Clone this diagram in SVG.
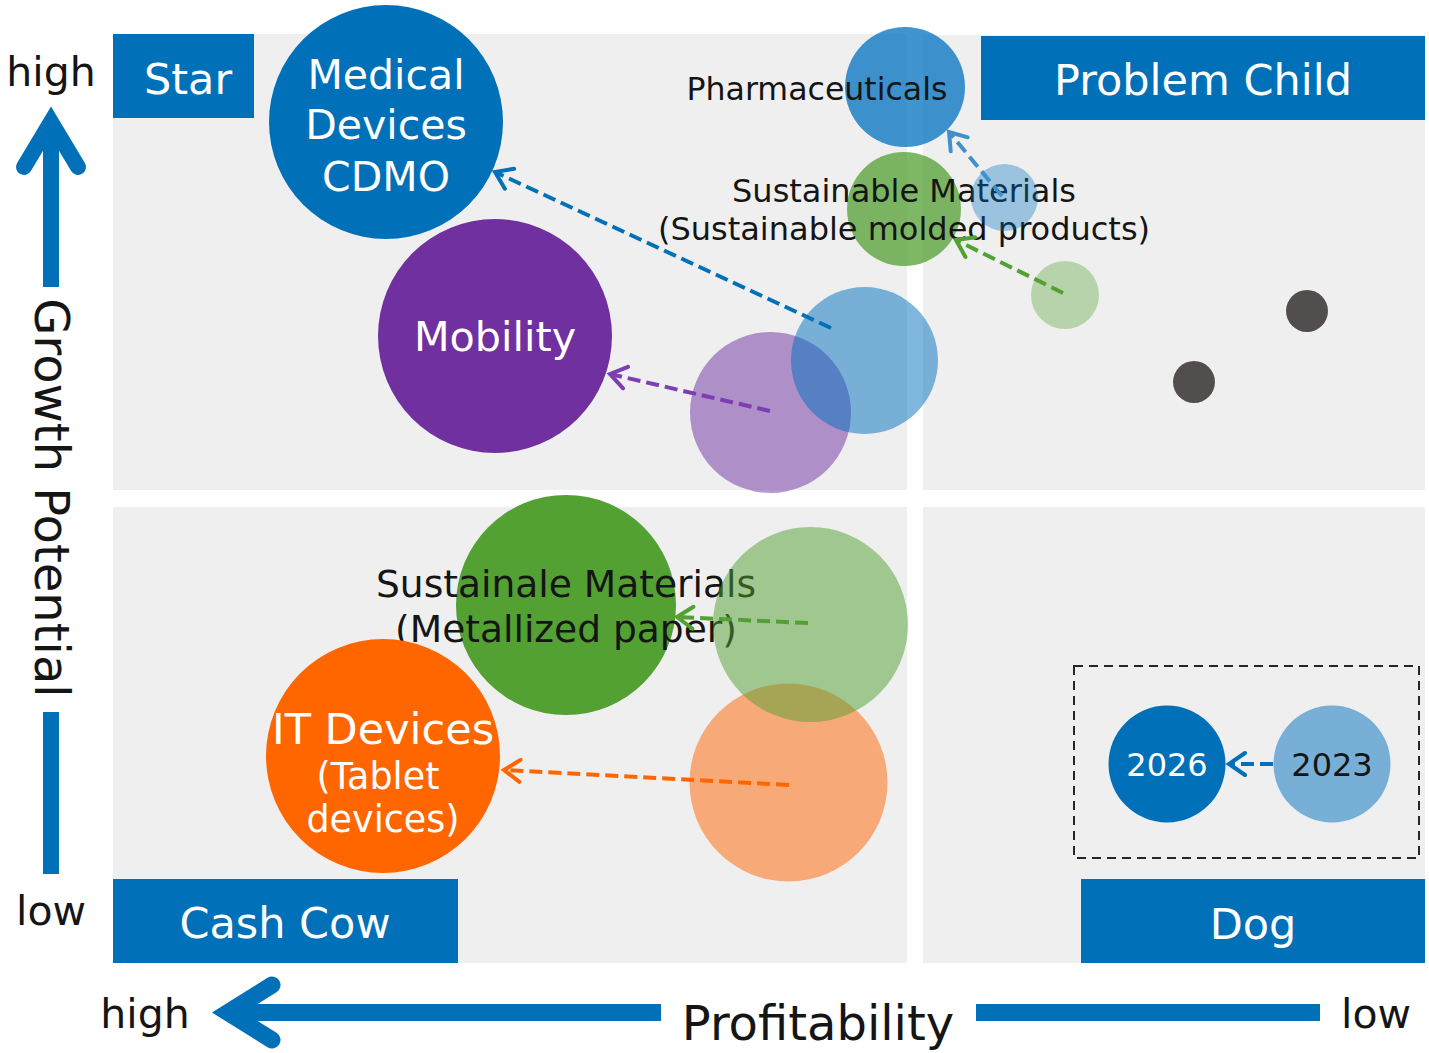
<svg xmlns="http://www.w3.org/2000/svg" width="1429" height="1053" viewBox="0 0 1429 1053">
<style>
text{font-family:"DejaVu Sans",Verdana,sans-serif;}
.quad{fill:#efefef;}
.lab{fill:#0070B9;}
.labt{fill:#ffffff;font-size:43px;text-anchor:middle;}
.ax{fill:#151515;font-size:41px;text-anchor:middle;}
.axt{fill:#151515;font-size:48px;text-anchor:middle;}
.axis{stroke:#0070B9;fill:none;}
.wt{fill:#ffffff;text-anchor:middle;}
.bk{fill:#151515;text-anchor:middle;}
.dash{fill:none;stroke-width:4;stroke-dasharray:13 6;}
</style>
<defs>
<marker id="mBlue" markerUnits="userSpaceOnUse" markerWidth="40" markerHeight="40" refX="0" refY="0" orient="auto" viewBox="-20 -20 40 40" overflow="visible"><path d="M-16,-11 L0,0 L-16,11" fill="none" stroke="#0070B9" stroke-width="4" stroke-linecap="round" stroke-linejoin="miter"/></marker>
<marker id="mMid" markerUnits="userSpaceOnUse" markerWidth="40" markerHeight="40" refX="0" refY="0" orient="auto" viewBox="-20 -20 40 40" overflow="visible"><path d="M-16,-11 L0,0 L-16,11" fill="none" stroke="#3F90CB" stroke-width="4" stroke-linecap="round"/></marker>
<marker id="mPurple" markerUnits="userSpaceOnUse" markerWidth="40" markerHeight="40" refX="0" refY="0" orient="auto" viewBox="-20 -20 40 40" overflow="visible"><path d="M-16,-11 L0,0 L-16,11" fill="none" stroke="#7D3DB5" stroke-width="4" stroke-linecap="round"/></marker>
<marker id="mGreen" markerUnits="userSpaceOnUse" markerWidth="40" markerHeight="40" refX="0" refY="0" orient="auto" viewBox="-20 -20 40 40" overflow="visible"><path d="M-16,-11 L0,0 L-16,11" fill="none" stroke="#53A033" stroke-width="4" stroke-linecap="round"/></marker>
<marker id="mOrange" markerUnits="userSpaceOnUse" markerWidth="40" markerHeight="40" refX="0" refY="0" orient="auto" viewBox="-20 -20 40 40" overflow="visible"><path d="M-16,-11 L0,0 L-16,11" fill="none" stroke="#FF6600" stroke-width="4" stroke-linecap="round"/></marker>
</defs>
<rect width="1429" height="1053" fill="#ffffff"/>
<g id="quadrants">
<rect class="quad" x="113" y="34" width="794" height="456"/>
<rect class="quad" x="923" y="35" width="502" height="455"/>
<rect class="quad" x="113" y="507" width="794" height="456"/>
<rect class="quad" x="923" y="507" width="502" height="456"/>
</g>
<g id="label-star"><rect class="lab" x="113" y="34" width="141" height="84"/><text class="labt" x="188" y="94">Star</text></g>
<g id="label-problem-child"><rect class="lab" x="981" y="36" width="444" height="84"/><text class="labt" x="1203" y="95">Problem Child</text></g>
<g id="label-cash-cow"><rect class="lab" x="113" y="879" width="345" height="84"/><text class="labt" x="285" y="938">Cash Cow</text></g>
<g id="label-dog"><rect class="lab" x="1081" y="879" width="344" height="84"/><text class="labt" x="1253" y="939">Dog</text></g>
<g id="axis-y">
<path class="axis" d="M51,287 V125" stroke-width="16"/>
<path class="axis" d="M24,167 L51,122 L78,167" stroke-width="16" stroke-linecap="round" stroke-linejoin="miter" stroke-miterlimit="10"/>
<path class="axis" d="M51,712 V874" stroke-width="16"/>
<text class="axt" transform="translate(35,498) rotate(90)" x="0" y="0">Growth Potential</text>
<text class="ax" x="51" y="86">high</text>
<text class="ax" x="51" y="925">low</text>
</g>
<g id="axis-x">
<path class="axis" d="M661,1012.5 H232" stroke-width="17"/>
<path class="axis" d="M272,985 L228,1012.5 L272,1040" stroke-width="17" stroke-linecap="round" stroke-linejoin="miter" stroke-miterlimit="10"/>
<path class="axis" d="M976,1012.5 H1320" stroke-width="17"/>
<text class="axt" x="818" y="1040">Profitability</text>
<text class="ax" x="145" y="1028">high</text>
<text class="ax" x="1376" y="1028">low</text>
</g>
<g id="node-medical-2026"><circle cx="386" cy="122" r="117" fill="#0070B9"/><text class="wt" font-size="41" x="386" y="89">Medical</text><text class="wt" font-size="41" x="386" y="139">Devices</text><text class="wt" font-size="41" x="386" y="191">CDMO</text></g>
<g id="node-mobility-2026"><circle cx="495" cy="336" r="117" fill="#7030A0"/><text class="wt" font-size="41.3" x="495" y="351">Mobility</text></g>
<g id="node-pharma-2026"><circle cx="905" cy="87" r="60" fill="#0070C0" fill-opacity="0.75"/><text class="bk" font-size="31.6" x="817" y="100">Pharmaceuticals</text></g>
<g id="node-molded-2026"><circle cx="904" cy="209" r="57" fill="#53A033" fill-opacity="0.75"/><text class="bk" font-size="32" x="904" y="202">Sustainable Materials</text><text class="bk" font-size="32" x="904" y="240">(Sustainable molded products)</text></g>
<g id="node-metallized-2026"><circle cx="566" cy="605" r="110" fill="#53A033"/><text class="bk" font-size="37.6" x="566" y="597">Sustainale Materials</text><text class="bk" font-size="37.6" x="566" y="642">(Metallized paper)</text></g>
<g id="node-it-2026"><circle cx="383" cy="756" r="117" fill="#FF6600"/><text class="wt" font-size="43" x="383" y="744">IT Devices</text><text class="wt" font-size="36.5" x="378" y="789">(Tablet</text><text class="wt" font-size="36.5" x="383" y="832">devices)</text></g>
<g id="node-mobility-2023"><circle cx="770.5" cy="412.5" r="80.5" fill="#7030A0" fill-opacity="0.5"/></g>
<g id="node-medical-2023"><circle cx="864.5" cy="360.5" r="73.5" fill="#0070C0" fill-opacity="0.5"/></g>
<g id="node-pharma-2023"><circle cx="1004.5" cy="197.5" r="33.5" fill="#0070C0" fill-opacity="0.35"/></g>
<g id="node-molded-2023"><circle cx="1065" cy="295" r="34" fill="#53A033" fill-opacity="0.36"/></g>
<g id="node-it-2023"><circle cx="788.5" cy="782.5" r="99" fill="#FF6600" fill-opacity="0.5"/></g>
<g id="node-metallized-2023"><circle cx="810.5" cy="624.5" r="97.5" fill="#53A033" fill-opacity="0.5"/></g>
<g id="node-other-1"><circle cx="1307" cy="311" r="21" fill="#524E4D"/></g>
<g id="node-other-2"><circle cx="1194" cy="382" r="21" fill="#524E4D"/></g>
<g id="legend">
<rect x="1074" y="666" width="345" height="192" fill="none" stroke="#262626" stroke-width="2" stroke-dasharray="9 6"/>
<circle cx="1167" cy="764" r="58.5" fill="#0070B9"/><text class="wt" font-size="32" x="1167" y="776">2026</text>
<circle cx="1332" cy="764" r="58.5" fill="#0070C0" fill-opacity="0.5"/><text class="bk" font-size="32" x="1332" y="776">2023</text>
</g>
<g id="connectors">
<path class="dash" stroke="#0070B9" d="M831,328 L495,172" marker-end="url(#mBlue)"/>
<path class="dash" stroke="#7D3DB5" d="M770,411 L610,374" marker-end="url(#mPurple)"/>
<path class="dash" stroke="#3F90CB" d="M1002,196 L949,132" marker-end="url(#mMid)"/>
<path class="dash" stroke="#53A033" d="M1063,293 L956,240" marker-end="url(#mGreen)"/>
<path class="dash" stroke="#53A033" d="M808,623 L677,617" marker-end="url(#mGreen)"/>
<path class="dash" stroke="#FF6600" d="M789,785 L504,770" marker-end="url(#mOrange)"/>
<path class="dash" stroke="#0070B9" d="M1273,764 L1229,764" marker-end="url(#mBlue)"/>
</g>
</svg>
